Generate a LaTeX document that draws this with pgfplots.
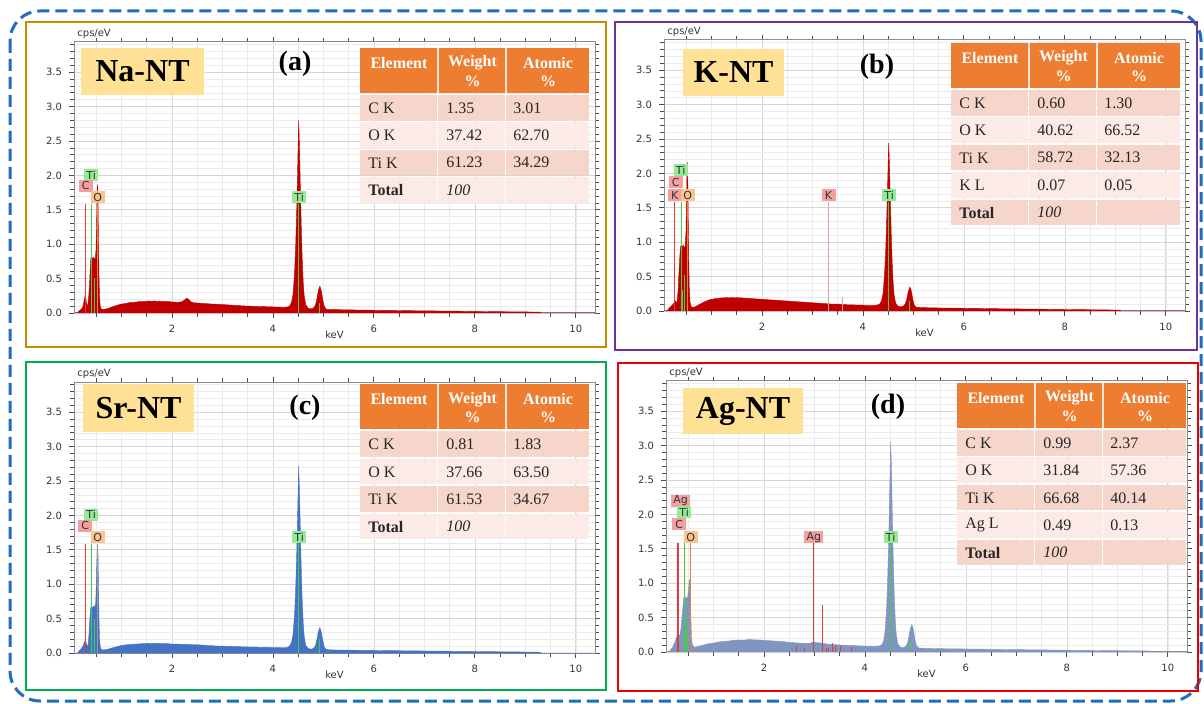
\documentclass[border=0pt]{standalone}
\usepackage{fontspec}
\setmainfont{Liberation Serif}
\newfontfamily\tickfont{DejaVu Sans}
\usepackage{pgfplots}
\pgfplotsset{compat=1.18}

\definecolor{specred}{RGB}{192,0,0}
\definecolor{specblue}{RGB}{68,114,196}
\definecolor{specgray}{RGB}{128,150,192}
\definecolor{hdr}{RGB}{237,125,49}
\definecolor{rowA}{RGB}{246,213,203}
\definecolor{rowB}{RGB}{251,234,229}
\definecolor{namebox}{RGB}{255,225,150}
\definecolor{fgold}{RGB}{191,144,0}
\definecolor{fpurple}{RGB}{112,48,160}
\definecolor{fgreen}{RGB}{0,176,80}
\definecolor{fred}{RGB}{230,0,0}
\definecolor{dashblue}{RGB}{31,110,190}
\definecolor{mred}{RGB}{225,60,60}
\definecolor{mgreen}{RGB}{70,205,70}
\definecolor{morange}{RGB}{235,130,60}
\definecolor{mpink}{RGB}{225,160,170}
\definecolor{lgreen}{RGB}{150,235,150}
\definecolor{lpink}{RGB}{245,160,160}
\definecolor{lorange}{RGB}{250,195,145}

\tikzset{lab/.style={font=\tickfont\fontsize{5.5}{6}\selectfont, inner sep=0pt, minimum width=7pt, minimum height=6pt, text=black!80},
  mk/.style={ycomb, mark=none, line width=0.45pt, draw=#1},
  hdrtext/.style={font=\bfseries\fontsize{8}{9}\selectfont, text=white, inner sep=0pt},
  bodytext/.style={anchor=west, font=\fontsize{8}{9}\selectfont, text=black!85, inner sep=0pt}}

\pgfplotsset{eds/.style={
  width=260.5pt, height=135.5pt, scale only axis, anchor=south west,
  xmin=0.06, xmax=10.38, ymin=0, ymax=3.94, clip=false,
  xtick={2,4,6,8,10}, minor xtick={0.5,1,...,10},
  ytick={0,0.5,1,1.5,2,2.5,3,3.5},
  minor ytick={0.1,0.2,0.3,0.4,0.6,0.7,0.8,0.9,1.1,1.2,1.3,1.4,1.6,1.7,1.8,1.9,2.1,2.2,2.3,2.4,2.6,2.7,2.8,2.9,3.1,3.2,3.3,3.4,3.6,3.7,3.8,3.9},
  tick align=outside, major tick length=2.5pt, minor tick length=2pt,
  grid=both, major grid style={draw=black!16, line width=0.35pt},
  minor grid style={draw=black!8, line width=0.3pt},
  axis line style={draw=black!45, line width=0.5pt},
  tick style={draw=black!70, line width=0.4pt},
  tick label style={font=\tickfont\fontsize{5}{6}\selectfont, text=black!80},
  /pgf/number format/assume math mode=true,
  yticklabel style={/pgf/number format/.cd, fixed, fixed zerofill, precision=1},
  xlabel={keV}, xlabel style={font=\tickfont\fontsize{5}{6}\selectfont, text=black!80, at={(axis description cs:0.5,0)}, anchor=center, yshift=-11pt},
}}

\newcommand\cps{\node[anchor=south west, font=\tickfont\fontsize{5}{6}\selectfont, text=black!80, inner sep=0.5pt, xshift=1pt, yshift=0.8pt] at (rel axis cs:0,1) {cps/eV};}

\newcommand\etab[2]{%
 \fill[hdr] (#1,#2) rectangle ++(229,45);
 \draw[white!80!hdr, line width=0.6pt] (#1+78,#2) -- ++(0,45) (#1+146,#2) -- ++(0,45);
 \node[hdrtext] at (#1+39,#2+15) {Element};
 \node[hdrtext] at (#1+112.5,#2+15) {Weight};
 \node[hdrtext] at (#1+112.5,#2+33) {\%};
 \node[hdrtext] at (#1+188,#2+15) {Atomic};
 \node[hdrtext] at (#1+188,#2+33) {\%};
}
\newcommand\erow[6]{%
 \fill[#3] (#1,#2) rectangle ++(77.3,25.6);
 \fill[#3] (#1+78.3,#2) rectangle ++(67,25.6);
 \fill[#3] (#1+146.3,#2) rectangle ++(82.7,25.6);
 \node[bodytext] at (#1+8,#2+13) {#4};
 \node[bodytext] at (#1+86,#2+13) {#5};
 \node[bodytext] at (#1+153,#2+13) {#6};
}

\begin{document}
\begin{tikzpicture}
\path[use as bounding box] (0,0) rectangle (602pt,-352pt);

% ---------------- (a) Na-NT
\begin{axis}[eds, at={(37pt,-156.5pt)}]
\addplot[fill=specred, draw=specred, line width=0.2pt] coordinates {
(0.06,0) (0.13,0) (0.15,0.02) (0.18,0.04) (0.21,0.06) (0.24,0.10) (0.26,0.18) (0.28,0.25) (0.295,0.22) (0.31,0.13) (0.33,0.10) (0.35,0.22) (0.37,0.45) (0.385,0.70) (0.395,0.80) (0.42,0.79) (0.44,0.81) (0.46,0.80) (0.48,0.78) (0.495,0.90) (0.505,1.20) (0.515,1.60) (0.525,1.87) (0.535,1.65) (0.545,1.05) (0.555,0.55) (0.565,0.25) (0.58,0.10) (0.60,0.06) (0.63,0.05) (0.67,0.055)
(0.70,0.06) (0.75,0.07) (0.80,0.085) (0.85,0.095) (0.90,0.11) (0.95,0.12) (1.00,0.13) (1.05,0.135) (1.10,0.14) (1.15,0.15) (1.20,0.15) (1.25,0.155) (1.30,0.16) (1.35,0.165) (1.40,0.165) (1.45,0.17) (1.50,0.17) (1.55,0.175) (1.60,0.17) (1.65,0.175) (1.70,0.17) (1.75,0.172) (1.80,0.168) (1.85,0.17) (1.90,0.165) (1.95,0.165) (2.00,0.16) (2.05,0.16) (2.10,0.155) (2.15,0.158) (2.20,0.165) (2.25,0.19) (2.29,0.215) (2.33,0.20) (2.37,0.165) (2.42,0.15) (2.50,0.145) (2.60,0.14) (2.70,0.135) (2.80,0.13) (2.90,0.127) (3.00,0.123) (3.10,0.118) (3.20,0.113) (3.30,0.108) (3.40,0.104) (3.50,0.10) (3.60,0.098) (3.70,0.095) (3.80,0.093) (3.90,0.09) (4.00,0.088) (4.10,0.085) (4.20,0.083) (4.28,0.085)
(4.33,0.10) (4.37,0.16) (4.40,0.28) (4.43,0.60) (4.45,0.95) (4.47,1.45) (4.49,2.10) (4.51,2.80) (4.525,2.45) (4.54,1.95) (4.56,1.30) (4.58,0.80) (4.60,0.45) (4.62,0.25) (4.65,0.12) (4.70,0.07) (4.75,0.06) (4.80,0.07) (4.84,0.11) (4.87,0.20) (4.90,0.33) (4.93,0.39) (4.96,0.32) (4.99,0.18) (5.02,0.09) (5.06,0.055)
(5.15,0.05) (5.4,0.047) (5.7,0.043) (6.0,0.04) (6.4,0.037) (6.8,0.033) (7.2,0.03) (7.6,0.027) (8.0,0.023) (8.4,0.02) (8.8,0.017) (9.2,0.014) (9.3,0.012) (9.31,0) (10.38,0)
} \closedcycle;
\addplot[mk=mred] coordinates {(0.277,1.58)};
\addplot[mk=mgreen] coordinates {(0.396,1.58) (0.415,0.30) (0.46,0.51) (4.51,1.58) (4.93,0.15)};
\addplot[mk=morange] coordinates {(0.525,1.58)};
\node[lab, fill=lgreen] at (axis cs:0.40,2.00) {Ti};
\node[lab, fill=lpink] at (axis cs:0.29,1.85) {C};
\node[lab, fill=lorange] at (axis cs:0.53,1.68) {O};
\node[lab, fill=lgreen] at (axis cs:4.52,1.68) {Ti};
\cps
\end{axis}

% ---------------- (b) K-NT
\begin{axis}[eds, at={(332pt,-155.5pt)}]
\addplot[fill=specred, draw=specred, line width=0.2pt] coordinates {
(0.06,0) (0.12,0) (0.15,0.03) (0.19,0.06) (0.23,0.09) (0.26,0.12) (0.28,0.15) (0.30,0.12) (0.32,0.14) (0.34,0.30) (0.355,0.55) (0.37,0.75) (0.385,0.93) (0.40,0.95) (0.42,0.93) (0.44,0.96) (0.46,0.92) (0.48,0.94) (0.495,1.15) (0.505,1.55) (0.515,1.95) (0.522,2.16) (0.53,1.95) (0.54,1.35) (0.55,0.75) (0.56,0.35) (0.575,0.13) (0.60,0.06) (0.64,0.05)
(0.70,0.07) (0.75,0.09) (0.80,0.11) (0.85,0.13) (0.90,0.145) (0.95,0.16) (1.00,0.17) (1.05,0.175) (1.10,0.185) (1.15,0.185) (1.20,0.19) (1.25,0.19) (1.30,0.195) (1.35,0.19) (1.40,0.197) (1.45,0.19) (1.50,0.195) (1.55,0.19) (1.60,0.19) (1.65,0.185) (1.70,0.186) (1.75,0.18) (1.80,0.18) (1.90,0.175) (2.00,0.17) (2.10,0.165) (2.20,0.16) (2.30,0.155) (2.40,0.15) (2.50,0.145) (2.60,0.14) (2.70,0.135) (2.80,0.13) (2.90,0.125) (3.00,0.12) (3.10,0.115) (3.20,0.11) (3.30,0.105) (3.40,0.10) (3.50,0.10) (3.60,0.095) (3.70,0.09) (3.80,0.09) (3.90,0.085) (4.00,0.085) (4.10,0.08) (4.20,0.08) (4.28,0.085)
(4.33,0.10) (4.37,0.15) (4.40,0.26) (4.43,0.55) (4.45,0.85) (4.47,1.30) (4.49,1.85) (4.51,2.44) (4.525,2.15) (4.54,1.70) (4.56,1.15) (4.58,0.70) (4.60,0.40) (4.62,0.22) (4.65,0.11) (4.70,0.07) (4.75,0.06) (4.80,0.07) (4.84,0.10) (4.87,0.18) (4.90,0.29) (4.93,0.35) (4.96,0.29) (4.99,0.16) (5.02,0.08) (5.06,0.055)
(5.15,0.05) (5.4,0.045) (5.7,0.042) (6.0,0.04) (6.4,0.036) (6.8,0.032) (7.2,0.029) (7.6,0.026) (8.0,0.022) (8.4,0.019) (8.8,0.016) (9.1,0.013) (9.11,0) (10.38,0)
} \closedcycle;
\addplot[mk=mred] coordinates {(0.265,1.58)};
\addplot[mk=mgreen] coordinates {(0.40,1.58) (0.42,0.30) (0.46,0.52) (4.51,1.58) (4.93,0.15)};
\addplot[mk=morange] coordinates {(0.525,1.58)};
\addplot[mk=mpink] coordinates {(3.31,1.58) (3.59,0.20)};
\node[lab, fill=lgreen] at (axis cs:0.39,2.05) {Ti};
\node[lab, fill=lpink] at (axis cs:0.29,1.87) {C};
\node[lab, fill=lpink] at (axis cs:0.27,1.68) {K};
\node[lab, fill=lorange] at (axis cs:0.53,1.68) {O};
\node[lab, fill=lpink] at (axis cs:3.32,1.68) {K};
\node[lab, fill=lgreen] at (axis cs:4.52,1.68) {Ti};
\cps
\end{axis}

% ---------------- (c) Sr-NT
\begin{axis}[eds, at={(37pt,-326.5pt)}]
\addplot[fill=specblue, draw=specblue, line width=0.2pt] coordinates {
(0.06,0) (0.13,0) (0.16,0.03) (0.20,0.06) (0.24,0.10) (0.265,0.16) (0.28,0.18) (0.30,0.15) (0.32,0.10) (0.34,0.12) (0.36,0.30) (0.375,0.50) (0.39,0.66) (0.41,0.67) (0.43,0.66) (0.45,0.68) (0.47,0.66) (0.49,0.72) (0.50,0.95) (0.51,1.25) (0.52,1.50) (0.527,1.58) (0.535,1.45) (0.545,0.95) (0.555,0.50) (0.565,0.22) (0.58,0.09) (0.60,0.05) (0.64,0.045)
(0.70,0.05) (0.75,0.06) (0.80,0.07) (0.85,0.08) (0.90,0.09) (0.95,0.10) (1.00,0.11) (1.05,0.115) (1.10,0.12) (1.20,0.125) (1.30,0.13) (1.40,0.135) (1.50,0.14) (1.60,0.138) (1.70,0.142) (1.80,0.135) (1.90,0.136) (2.00,0.13) (2.10,0.13) (2.20,0.125) (2.30,0.126) (2.40,0.12) (2.50,0.12) (2.60,0.115) (2.70,0.11) (2.80,0.106) (2.90,0.10) (3.00,0.10) (3.20,0.095) (3.40,0.09) (3.60,0.086) (3.80,0.082) (4.00,0.08) (4.20,0.076) (4.28,0.08)
(4.33,0.10) (4.37,0.16) (4.40,0.28) (4.43,0.58) (4.45,0.92) (4.47,1.40) (4.49,2.03) (4.51,2.72) (4.525,2.38) (4.54,1.90) (4.56,1.27) (4.58,0.78) (4.60,0.44) (4.62,0.24) (4.65,0.11) (4.70,0.065) (4.75,0.055) (4.80,0.065) (4.84,0.10) (4.87,0.19) (4.90,0.31) (4.93,0.37) (4.96,0.30) (4.99,0.17) (5.02,0.08) (5.06,0.05)
(5.15,0.045) (5.4,0.042) (5.7,0.04) (6.0,0.037) (6.4,0.034) (6.8,0.031) (7.2,0.028) (7.6,0.025) (8.0,0.022) (8.4,0.019) (8.8,0.016) (9.2,0.013) (9.3,0.011) (9.31,0) (10.38,0)
} \closedcycle;
\addplot[mk=mred] coordinates {(0.277,1.58)};
\addplot[mk=mgreen] coordinates {(0.396,1.58) (0.415,0.30) (0.46,0.50) (4.51,1.58) (4.93,0.20)};
\addplot[mk=black!40] coordinates {(0.525,1.58)};
\node[lab, fill=lgreen] at (axis cs:0.40,2.01) {Ti};
\node[lab, fill=lpink] at (axis cs:0.28,1.85) {C};
\node[lab, fill=lorange] at (axis cs:0.53,1.68) {O};
\node[lab, fill=lgreen] at (axis cs:4.52,1.68) {Ti};
\cps
\end{axis}

% ---------------- (d) Ag-NT
\begin{axis}[eds, at={(333pt,-326pt)}]
\addplot[fill=specgray, draw=specgray, line width=0.2pt] coordinates {
(0.06,0) (0.12,0) (0.15,0.03) (0.19,0.07) (0.23,0.13) (0.26,0.20) (0.29,0.26) (0.31,0.27) (0.33,0.22) (0.35,0.30) (0.37,0.45) (0.39,0.62) (0.41,0.78) (0.43,0.81) (0.45,0.79) (0.47,0.78) (0.49,0.80) (0.505,0.90) (0.515,1.00) (0.525,1.05) (0.535,1.02) (0.545,0.80) (0.555,0.45) (0.565,0.22) (0.58,0.11) (0.60,0.08) (0.64,0.07)
(0.70,0.08) (0.75,0.09) (0.80,0.10) (0.85,0.11) (0.90,0.12) (0.95,0.125) (1.00,0.13) (1.10,0.145) (1.20,0.155) (1.30,0.16) (1.40,0.17) (1.50,0.175) (1.60,0.173) (1.70,0.18) (1.80,0.178) (1.90,0.175) (2.00,0.17) (2.10,0.165) (2.20,0.16) (2.30,0.155) (2.40,0.15) (2.50,0.14) (2.60,0.135) (2.70,0.13) (2.80,0.125) (2.90,0.125) (2.96,0.14) (3.00,0.145) (3.05,0.135) (3.15,0.13) (3.25,0.115) (3.35,0.11) (3.45,0.105) (3.55,0.10) (3.70,0.095) (3.85,0.09) (4.00,0.085) (4.15,0.08) (4.28,0.085)
(4.33,0.10) (4.37,0.16) (4.40,0.30) (4.43,0.65) (4.45,1.05) (4.47,1.60) (4.49,2.30) (4.51,3.05) (4.525,2.70) (4.54,2.10) (4.56,1.40) (4.58,0.85) (4.60,0.48) (4.62,0.26) (4.65,0.12) (4.70,0.07) (4.75,0.065) (4.80,0.075) (4.84,0.12) (4.87,0.22) (4.90,0.34) (4.93,0.40) (4.96,0.33) (4.99,0.18) (5.02,0.09) (5.06,0.06)
(5.15,0.055) (5.4,0.05) (5.7,0.046) (6.0,0.044) (6.4,0.04) (6.8,0.036) (7.2,0.033) (7.6,0.03) (8.0,0.026) (8.4,0.023) (8.8,0.02) (9.2,0.018) (9.6,0.015) (9.7,0.012) (9.71,0) (10.38,0)
} \closedcycle;
\addplot[mk=mred] coordinates {(0.277,1.58) (0.31,1.58) (2.634,0.08) (2.806,0.06) (2.984,1.58) (3.151,0.68) (3.23,0.06) (3.27,0.06) (3.348,0.13) (3.42,0.08) (3.52,0.08) (3.743,0.07)};
\addplot[mk=mgreen] coordinates {(0.42,1.58) (0.445,0.30) (0.47,0.51) (4.51,1.58) (4.93,0.15)};
\addplot[mk=morange] coordinates {(0.535,1.58)};
\node[lab, fill=lpink, minimum width=9.5pt] at (axis cs:0.35,2.20) {Ag};
\node[lab, fill=lgreen] at (axis cs:0.42,2.03) {Ti};
\node[lab, fill=lpink] at (axis cs:0.32,1.86) {C};
\node[lab, fill=lorange] at (axis cs:0.55,1.67) {O};
\node[lab, fill=lpink, minimum width=9.5pt] at (axis cs:2.99,1.67) {Ag};
\node[lab, fill=lgreen] at (axis cs:4.51,1.67) {Ti};
\cps
\end{axis}

% ---------------- decorations (pixel coordinates)
\begin{scope}[x=0.5pt, y=-0.5pt]
\draw[dashblue, line width=1.5pt, dash pattern=on 6pt off 3pt, rounded corners=15pt] (10,11) rectangle (1201,701);
\draw[fgold, line width=1pt] (26,22) rectangle (606,347);
\draw[fpurple, line width=1pt] (615,22) rectangle (1197,350);
\draw[fgreen, line width=1pt] (26,362) rectangle (606,690);
\draw[fred, line width=1pt] (618,363) rectangle (1198,691);

\fill[namebox] (81,48) rectangle (204,95);
\node[font=\bfseries\fontsize{16}{18}\selectfont] at (142.5,71.5) {Na-NT};
\fill[namebox] (683,49) rectangle (784,96);
\node[font=\bfseries\fontsize{16}{18}\selectfont] at (733.5,72.5) {K-NT};
\fill[namebox] (83,384) rectangle (194,432);
\node[font=\bfseries\fontsize{16}{18}\selectfont] at (138.5,408) {Sr-NT};
\fill[namebox] (683,388) rectangle (803,434);
\node[font=\bfseries\fontsize{16}{18}\selectfont] at (743,411) {Ag-NT};

\node[font=\bfseries\fontsize{14}{16}\selectfont] at (295,64) {(a)};
\node[font=\bfseries\fontsize{14}{16}\selectfont] at (877,67) {(b)};
\node[font=\bfseries\fontsize{14}{16}\selectfont] at (305,408) {(c)};
\node[font=\bfseries\fontsize{14}{16}\selectfont] at (888,407) {(d)};

% tables
\etab{360}{48}
\erow{360}{95}{rowA}{C K}{1.35}{3.01}
\erow{360}{122.4}{rowB}{O K}{37.42}{62.70}
\erow{360}{149.8}{rowA}{Ti K}{61.23}{34.29}
\erow{360}{177.2}{rowB}{\textbf{Total}}{\textit{100}}{}

\etab{951}{43}
\erow{951}{90}{rowA}{C K}{0.60}{1.30}
\erow{951}{117.4}{rowB}{O K}{40.62}{66.52}
\erow{951}{144.8}{rowA}{Ti K}{58.72}{32.13}
\erow{951}{172.2}{rowB}{K L}{0.07}{0.05}
\erow{951}{199.6}{rowA}{\textbf{Total}}{\textit{100}}{}

\etab{360}{384.5}
\erow{360}{431.5}{rowA}{C K}{0.81}{1.83}
\erow{360}{458.9}{rowB}{O K}{37.66}{63.50}
\erow{360}{486.3}{rowA}{Ti K}{61.53}{34.67}
\erow{360}{513.7}{rowB}{\textbf{Total}}{\textit{100}}{}

\etab{957}{383}
\erow{957}{430}{rowA}{C K}{0.99}{2.37}
\erow{957}{457.4}{rowB}{O K}{31.84}{57.36}
\erow{957}{484.8}{rowA}{Ti K}{66.68}{40.14}
\erow{957}{512.2}{rowB}{Ag L}{0.49}{0.13}
\erow{957}{539.6}{rowA}{\textbf{Total}}{\textit{100}}{}
\end{scope}
\end{tikzpicture}
\end{document}
